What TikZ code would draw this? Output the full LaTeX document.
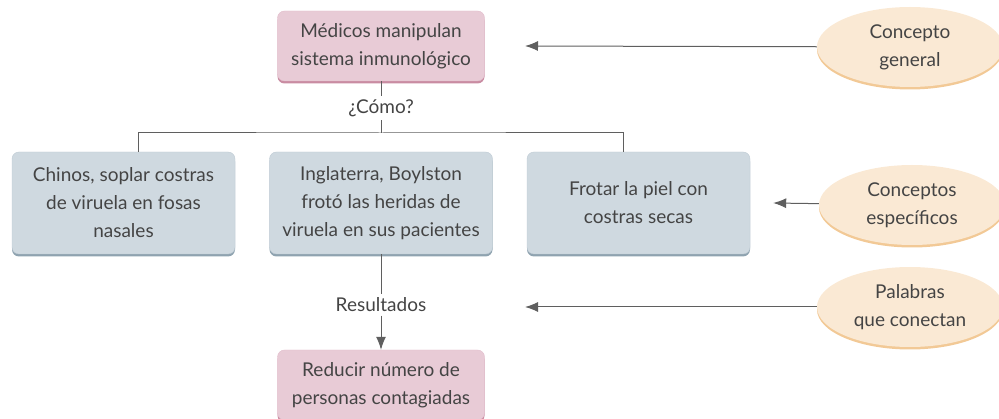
\documentclass[tikz,border=0pt]{standalone}
\usepackage{fontspec}
\setmainfont{Lato}
\usetikzlibrary{shapes,arrows.meta,positioning,shadows,calc}

\definecolor{rosa}{HTML}{E8CBD6}
\definecolor{rosabordo}{HTML}{C98CA2}
\definecolor{grigio}{HTML}{CFD9E0}
\definecolor{grigiobordo}{HTML}{8FA3B0}
\definecolor{crema}{HTML}{FAE9D4}
\definecolor{cremabordo}{HTML}{F2C996}
\definecolor{testo}{HTML}{444444}
\definecolor{linea}{HTML}{5F5F5F}

\begin{document}
\begin{tikzpicture}[x=1pt, y=-1pt, every node/.style={font=\fontsize{19}{28}\selectfont, text=testo, align=center},
	rosabox/.style={rectangle, rounded corners=7pt, fill=rosa, draw=rosa!80!rosabordo, minimum width=207pt, minimum height=70pt,
		drop shadow={shadow xshift=0pt, shadow yshift=-2.5pt, fill=rosabordo, opacity=1}},
	grigiobox/.style={rectangle, rounded corners=7pt, fill=grigio, draw=grigio!75!grigiobordo, minimum width=223pt, minimum height=102pt,
		drop shadow={shadow xshift=0pt, shadow yshift=-2.5pt, fill=grigiobordo, opacity=1}},
	nota/.style={ellipse, fill=crema, minimum width=186pt, minimum height=80pt,
		drop shadow={shadow xshift=0pt, shadow yshift=-2.5pt, fill=cremabordo, opacity=1}},
	linea/.style={draw=linea, line width=1pt},
	freccia/.style={linea, -{Latex[length=13pt, width=10pt]}}]
	\useasboundingbox (0,0) rectangle (999,419);

	\node[rosabox] (med) at (381,46) {Médicos manipulan\\sistema inmunológico};
	\node (como) at (381,108) {¿Cómo?};
	\node[grigiobox] (chi) at (123.5,203) {Chinos, soplar costras\\de viruela en fosas\\nasales};
	\node[grigiobox] (ing) at (381,203) {Inglaterra, Boylston\\frotó las heridas de\\viruela en sus pacientes};
	\node[grigiobox] (fro) at (638.5,203) {Frotar la piel con\\costras secas};
	\node (ris) at (381,305) {Resultados};
	\node[rosabox] (rid) at (381,385) {Reducir número de\\personas contagiadas};

	\node[nota] (gen) at (910,47) {Concepto\\general};
	\node[nota] (spe) at (912,205) {Conceptos\\específicos};
	\node[nota] (pal) at (910,307) {Palabras\\que conectan};

	\coordinate (ramo) at (381,133);
	\draw[linea] (med) -- (como);
	\draw[linea] (como) -- (ramo);
	\draw[linea] ($(chi.north)+(15,0)$) |- (ramo) -| ($(fro.north)+(-15,0)$);
	\draw[linea] (ing) -- (ris);
	\draw[freccia] (ris) -- (rid);

	\draw[freccia] (gen) -- (525,46);
	\draw[freccia] (spe) -- ($(fro.east)+(23,0)$);
	\draw[freccia] (pal) -- (525,307);
\end{tikzpicture}
\end{document}
